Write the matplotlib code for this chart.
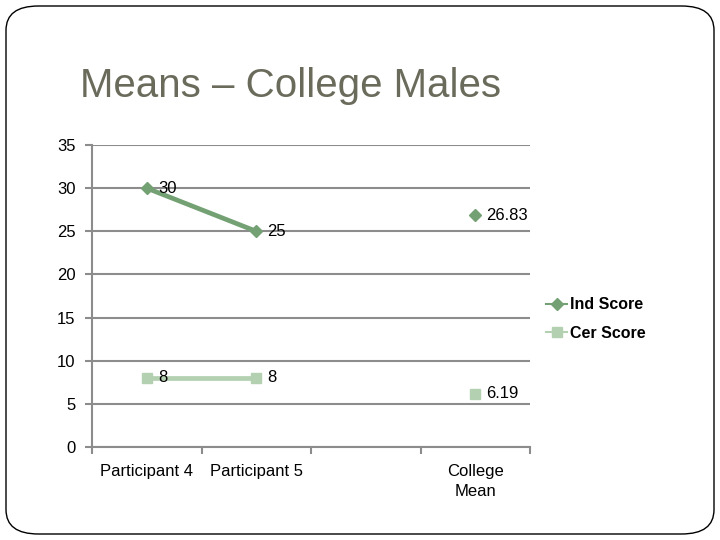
import numpy as np
import matplotlib.pyplot as plt
from matplotlib.patches import FancyBboxPatch

categorias = ['Participant 4', 'Participant 5', '', 'College\nMean']
ind_score = [30, 25, np.nan, 26.83]
cer_score = [8, 8, np.nan, 6.19]
rotulos_ind = ['30', '25', '', '26.83']
rotulos_cer = ['8', '8', '', '6.19']
y_ticks = [0, 5, 10, 15, 20, 25, 30, 35]

plt.rcParams['font.family'] = ['Liberation Sans', 'DejaVu Sans']

fig = plt.figure(figsize=(7.2, 5.4), dpi=100)

# moldura arredondada do slide
borda = FancyBboxPatch((6 / 720, 6 / 540), 708 / 720, 528 / 540,
                       boxstyle='round,pad=0,rounding_size=0.045',
                       transform=fig.transFigure, fill=False,
                       edgecolor='black', linewidth=1.0)
fig.patches.append(borda)

fig.text(80 / 720, 1 - 97 / 540, 'Means \u2013 College Males', fontsize=29,
         color='#6b6b5c', ha='left', va='baseline')

ax = fig.add_axes([92 / 720, 1 - 447 / 540, 438 / 720, 302 / 540])

x = np.arange(len(categorias))
cor_ind = '#74a174'
cor_cer = '#b3d0b0'

ax.plot(x, ind_score, color=cor_ind, linewidth=3.4, marker='D', markersize=6,
        label='Ind Score', zorder=3)
ax.plot(x, cer_score, color=cor_cer, linewidth=3.4, marker='s', markersize=7,
        label='Cer Score', zorder=3)

for xi, v, t in zip(x, ind_score, rotulos_ind):
    if t:
        ax.annotate(t, (xi, v), xytext=(8, 0), textcoords='offset points',
                    fontsize=12, va='center', ha='left')
for xi, v, t in zip(x, cer_score, rotulos_cer):
    if t:
        ax.annotate(t, (xi, v), xytext=(8, 0), textcoords='offset points',
                    fontsize=12, va='center', ha='left')

ax.set_xlim(-0.5, len(categorias) - 0.5)
ax.set_ylim(0, 35)
ax.set_yticks(y_ticks)
ax.set_xticks(x)
ax.set_xticklabels(categorias, fontsize=12, linespacing=1.45)
ax.set_xticks(np.arange(len(categorias) + 1) - 0.5, minor=True)
ax.tick_params(axis='x', which='major', length=0, pad=12)
ax.tick_params(axis='x', which='minor', length=5, color='#8c8c8c', width=1.5)
ax.tick_params(axis='y', length=5, color='#8c8c8c', width=1.5, labelsize=12, pad=7)

ax.grid(axis='y', color='#8c8c8c', linewidth=1.5)
ax.set_axisbelow(True)
for lado in ['top', 'right']:
    ax.spines[lado].set_visible(False)
ax.spines['left'].set_color('#8c8c8c')
ax.spines['left'].set_linewidth(1.5)
ax.spines['bottom'].set_color('#8c8c8c')
ax.spines['bottom'].set_linewidth(1.5)

leg = fig.legend(loc='center left', bbox_to_anchor=(532 / 720, 1 - 319 / 540),
                 frameon=False, handlelength=1.3, handletextpad=0.15,
                 labelspacing=0.85, prop={'weight': 'bold', 'size': 11.5})
for linha in leg.get_lines():
    linha.set_linewidth(1.5)

fig.savefig('out.png', dpi=100)
